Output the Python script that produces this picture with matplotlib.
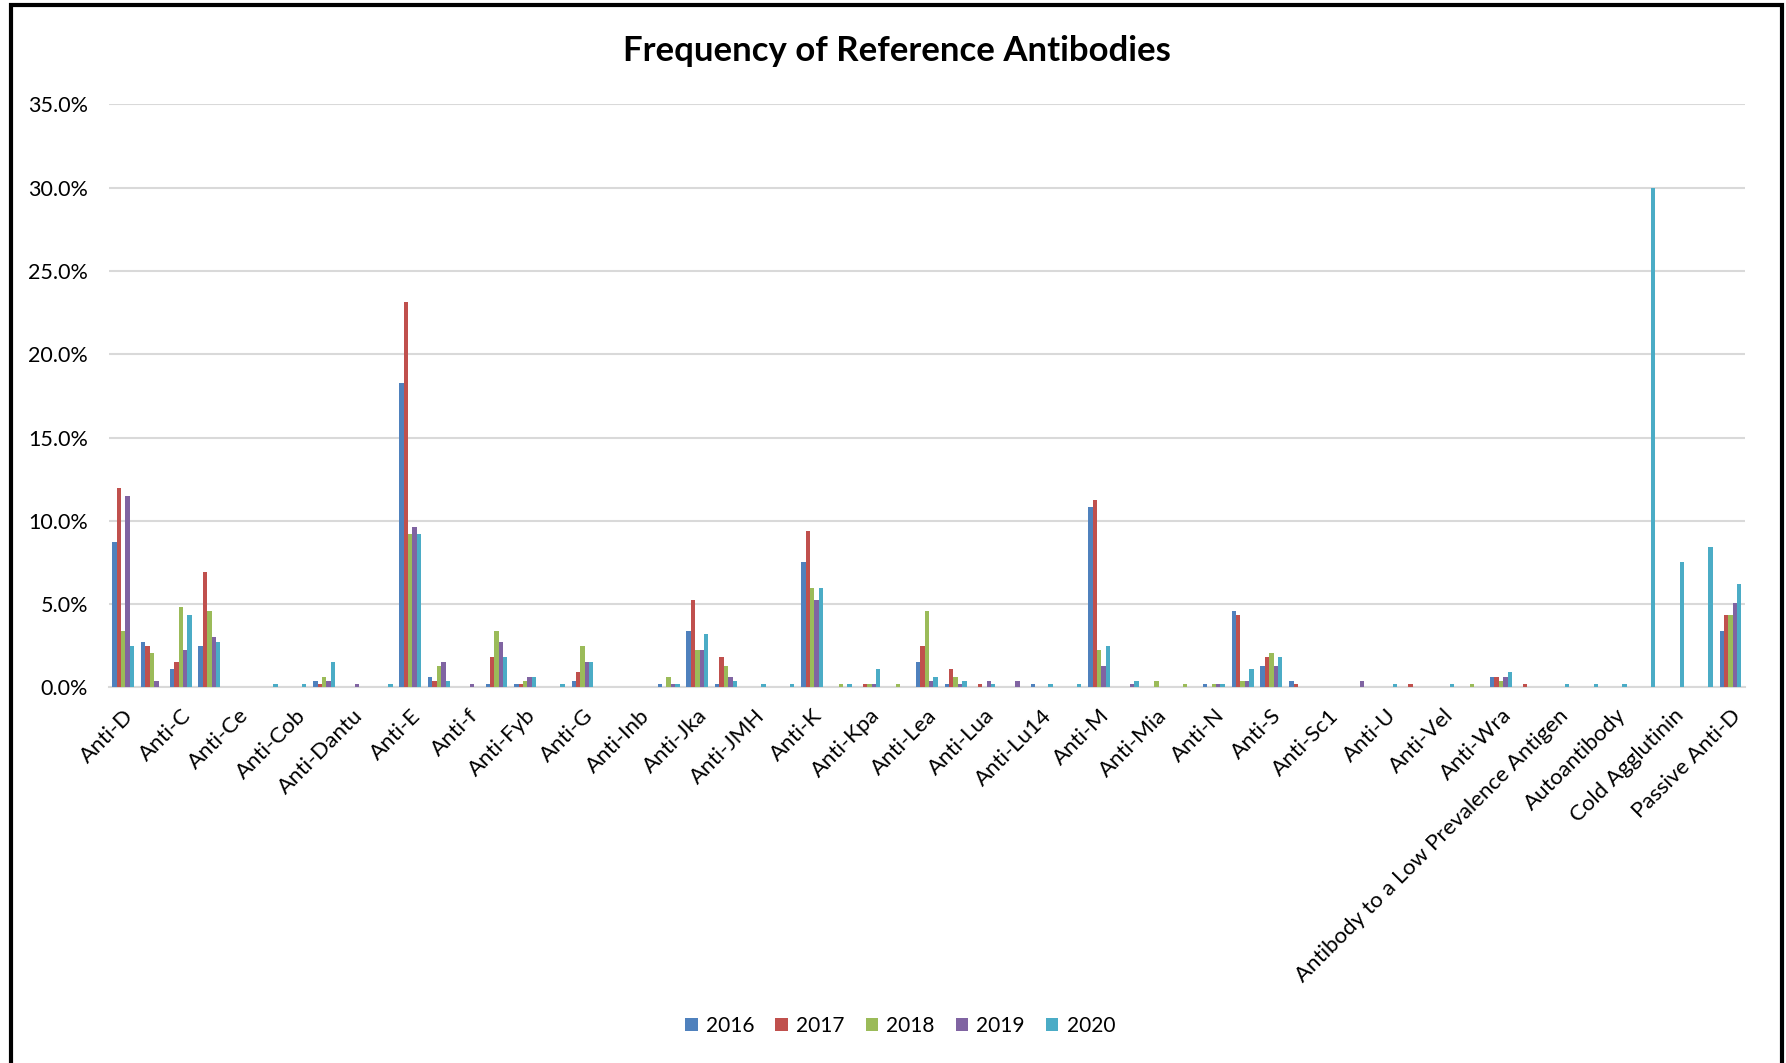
import matplotlib.pyplot as plt
import numpy as np
from matplotlib.patches import Rectangle

plt.rcParams['font.family'] = ['Lato', 'DejaVu Sans']

# every other label is hidden on the axis (like the Excel auto skip)
categories = ["Anti-D", "Anti-c", "Anti-C", "Anti-C+D", "Anti-Ce", "Anti-Ch", "Anti-Cob", "Anti-Cw",
              "Anti-Dantu", "Anti-Dia", "Anti-E", "Anti-e", "Anti-f", "Anti-Fya", "Anti-Fyb", "Anti-Fy3",
              "Anti-G", "Anti-Hy", "Anti-Inb", "Anti-Jk3", "Anti-Jka", "Anti-Jkb", "Anti-JMH", "Anti-Jsa",
              "Anti-K", "Anti-Kna", "Anti-Kpa", "Anti-Kpb", "Anti-Lea", "Anti-Leb", "Anti-Lua", "Anti-Lub",
              "Anti-Lu14", "Anti-LW", "Anti-M", "Anti-Mg", "Anti-Mia", "Anti-Mur", "Anti-N", "Anti-P1",
              "Anti-S", "Anti-s", "Anti-Sc1", "Anti-Tja", "Anti-U", "Anti-V", "Anti-Vel", "Anti-Vw",
              "Anti-Wra", "Anti-Yta", "Antibody to a Low Prevalence Antigen",
              "Antibody to a High Prevalence Antigen", "Autoantibody", "Autoantibody - Warm",
              "Cold Agglutinin", "Non-specific", "Passive Anti-D"]

years = ["2016", "2017", "2018", "2019", "2020"]

# percent values
y2016 = [8.7, 2.7, 1.1, 2.5, 0, 0, 0, 0.4, 0, 0, 18.3, 0.6, 0, 0.2, 0.2, 0,
         0.4, 0, 0, 0.2, 3.4, 0.2, 0, 0, 7.55, 0, 0, 0, 1.55, 0.2, 0, 0,
         0.2, 0, 10.8, 0, 0, 0, 0.2, 4.6, 1.3, 0.4, 0, 0, 0, 0, 0, 0,
         0.6, 0, 0, 0, 0, 0, 0, 0, 3.4]
y2017 = [11.95, 2.5, 1.55, 6.9, 0, 0, 0, 0.2, 0, 0, 23.15, 0.4, 0, 1.8, 0.2, 0,
         0.9, 0, 0, 0, 5.27, 1.8, 0, 0, 9.4, 0, 0.2, 0, 2.5, 1.1, 0.2, 0,
         0, 0, 11.25, 0, 0, 0, 0, 4.35, 1.8, 0.2, 0, 0, 0, 0.2, 0, 0,
         0.6, 0.2, 0, 0, 0, 0, 0, 0, 4.35]
y2018 = [3.4, 2.05, 4.85, 4.6, 0, 0, 0, 0.6, 0, 0, 9.2, 1.3, 0, 3.4, 0.4, 0,
         2.5, 0, 0, 0.6, 2.25, 1.3, 0, 0, 5.95, 0.2, 0.2, 0.2, 4.6, 0.6, 0, 0,
         0, 0, 2.25, 0, 0.4, 0.2, 0.2, 0.4, 2.05, 0, 0, 0, 0, 0, 0, 0.2,
         0.4, 0, 0, 0, 0, 0, 0, 0, 4.35]
y2019 = [11.5, 0.4, 2.25, 3.0, 0, 0, 0, 0.4, 0.2, 0, 9.65, 1.55, 0.2, 2.75, 0.6, 0,
         1.55, 0, 0, 0.2, 2.25, 0.6, 0, 0, 5.25, 0, 0.2, 0, 0.4, 0.2, 0.4, 0.4,
         0, 0, 1.3, 0.2, 0, 0, 0.2, 0.4, 1.3, 0, 0, 0.4, 0, 0, 0, 0,
         0.6, 0, 0, 0, 0, 0, 0, 0, 5.05]
y2020 = [2.5, 0, 4.35, 2.75, 0, 0.2, 0.2, 1.55, 0, 0.2, 9.2, 0.4, 0, 1.8, 0.6, 0.2,
         1.55, 0, 0, 0.2, 3.2, 0.4, 0.2, 0.2, 5.95, 0.2, 1.1, 0, 0.6, 0.4, 0.2, 0,
         0.2, 0.2, 2.5, 0.4, 0, 0, 0.2, 1.1, 1.8, 0, 0, 0, 0.2, 0, 0.2, 0,
         0.9, 0, 0.2, 0.2, 0.2, 30.0, 7.55, 8.45, 6.2]

colors = ['#4F81BD', '#C0504D', '#9BBB59', '#8064A2', '#4BACC6']
series = [y2016, y2017, y2018, y2019, y2020]

fig = plt.figure(figsize=(17.86, 10.63), dpi=100)
ax = fig.add_axes([0.061, 0.3534, 0.916, 0.5483])

x = np.arange(len(categories))
w = 0.152
for i in range(len(series)):
    ax.bar(x + (i - 2) * w, series[i], w, color=colors[i], label=years[i], zorder=3)

ax.set_xlim(-0.5, len(categories) - 0.5)
ax.set_ylim(0, 35)
ax.set_yticks(np.arange(0, 36, 5))
ax.set_yticklabels(["%.1f%%" % v for v in np.arange(0, 36, 5)], fontsize=15.5)
ax.set_xticks(x[::2])
ax.set_xticklabels(categories[::2], rotation=45, ha='right', rotation_mode='anchor', fontsize=16)
ax.tick_params(axis='both', length=0)
ax.tick_params(axis='y', pad=15)
ax.tick_params(axis='x', pad=13)
ax.grid(axis='y', color='#d9d9d9', linewidth=1.5, zorder=0)
for s in ['left', 'right', 'top']:
    ax.spines[s].set_visible(False)
ax.spines['bottom'].set_color('#d9d9d9')
ax.spines['bottom'].set_linewidth(1.5)

fig.text(0.502, 0.952, "Frequency of Reference Antibodies", ha='center', va='center',
         fontsize=25, fontweight='bold')

fig.legend(loc='center', bbox_to_anchor=(0.504, 0.035), ncol=5, frameon=False, fontsize=15,
           handlelength=0.6, handleheight=0.6, handletextpad=0.4, columnspacing=1.0)

# black frame around the chart (bottom cut off in the original)
fig.add_artist(Rectangle((0.0062, -0.05), 0.9916, 1.0453, transform=fig.transFigure,
                         fill=False, edgecolor='black', linewidth=3))

plt.savefig("out.png", dpi=100)
